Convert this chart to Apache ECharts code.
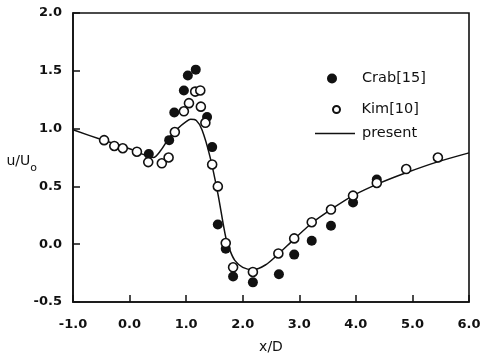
<!DOCTYPE html>
<html>
<head>
<meta charset="utf-8">
<script src="https://cdn.jsdelivr.net/npm/echarts@6/dist/echarts.min.js"></script>
<style>
  html, body { margin: 0; padding: 0; background: #fff; }
  #chart { width: 481px; height: 356px; }
</style>
</head>
<body>
<div id="chart"></div>
<script>
// Measured velocity ratio u/Uo along x/D
const crabPoints = [
  [0.34, 0.78], [0.70, 0.90], [0.79, 1.14], [0.96, 1.33], [1.03, 1.46],
  [1.17, 1.51], [1.37, 1.10], [1.46, 0.84], [1.56, 0.17], [1.70, -0.04],
  [1.83, -0.28], [2.18, -0.33], [2.64, -0.26], [2.91, -0.09], [3.22, 0.03],
  [3.56, 0.16], [3.95, 0.36], [4.37, 0.56]
];
const kimPoints = [
  [-0.45, 0.90], [-0.27, 0.85], [-0.12, 0.83], [0.13, 0.80], [0.33, 0.71],
  [0.57, 0.70], [0.69, 0.75], [0.80, 0.97], [0.96, 1.15], [1.05, 1.22],
  [1.16, 1.32], [1.25, 1.33], [1.26, 1.19], [1.34, 1.05], [1.46, 0.69],
  [1.56, 0.50], [1.70, 0.01], [1.83, -0.20], [2.18, -0.24], [2.63, -0.08],
  [2.91, 0.05], [3.22, 0.19], [3.56, 0.30], [3.95, 0.42], [4.37, 0.53],
  [4.89, 0.65], [5.45, 0.75]
];
// Computed profile
const presentCurve = [
  [-1.0, 0.99], [-0.5, 0.905], [0.0, 0.825], [0.3, 0.765], [0.42, 0.75],
  [0.55, 0.81], [0.7, 0.92], [0.85, 1.00], [1.0, 1.06], [1.08, 1.08],
  [1.18, 1.07], [1.28, 0.99], [1.42, 0.76], [1.56, 0.44], [1.70, 0.06],
  [1.78, -0.06], [1.86, -0.14], [2.0, -0.20], [2.18, -0.22], [2.4, -0.18],
  [2.64, -0.08], [2.9, 0.04], [3.24, 0.19], [3.56, 0.30], [3.95, 0.42],
  [4.43, 0.53], [4.9, 0.62], [5.43, 0.71], [6.0, 0.79]
];
const seriesNames = ['Crab[15]', 'Kim[10]', 'present'];
const xRange = [-1, 6, 1];
const yRange = [-0.5, 2, 0.5];

const ink = '#111';
const tickFont = { fontFamily: 'DejaVu Sans', fontWeight: 'bold', fontSize: 13, color: ink };
const legendText = (pad) => ({
  fontFamily: 'DejaVu Sans', fontSize: 14.5, color: ink, padding: [0, 0, 0, pad]
});

const chart = echarts.init(document.getElementById('chart'), null, { renderer: 'canvas' });
chart.setOption({
  animation: false,
  backgroundColor: '#fff',
  grid: {
    left: 73, right: 12, top: 13, bottom: 54,
    containLabel: false, outerBoundsMode: 'none',
    show: true, borderColor: ink, borderWidth: 1.6, backgroundColor: 'transparent'
  },
  legend: [
    {
      data: [{ name: seriesNames[0], icon: 'circle' }],
      left: 322, top: 66, itemWidth: 20, itemHeight: 10,
      selectedMode: false, textStyle: legendText(15)
    },
    {
      data: [{ name: seriesNames[1], icon: 'circle' }],
      left: 327, top: 97, itemWidth: 20, itemHeight: 7,
      selectedMode: false, textStyle: legendText(10)
    },
    {
      data: [{ name: seriesNames[2], icon: 'rect', itemStyle: { color: ink, borderWidth: 0 } }],
      left: 310, top: 121, itemWidth: 40, itemHeight: 1.5,
      selectedMode: false, textStyle: legendText(2)
    }
  ],
  xAxis: {
    type: 'value', min: xRange[0], max: xRange[1], interval: xRange[2],
    name: 'x/D', nameLocation: 'middle', nameGap: 38, nameMoveOverlap: false,
    nameTextStyle: { fontFamily: 'DejaVu Sans', fontSize: 14, color: ink },
    axisLine: { show: true, onZero: false, lineStyle: { color: ink, width: 1.6 } },
    axisTick: { show: true, inside: true, length: 7, lineStyle: { color: ink, width: 1.5 } },
    axisLabel: Object.assign({ margin: 16, formatter: v => v.toFixed(1) }, tickFont),
    splitLine: { show: false }
  },
  yAxis: {
    type: 'value', min: yRange[0], max: yRange[1], interval: yRange[2],
    name: 'u/U{o|o}', nameLocation: 'middle', nameRotate: 0, nameGap: 36, nameMoveOverlap: false,
    nameTextStyle: {
      fontFamily: 'DejaVu Sans', fontSize: 14, color: ink, padding: [8, 0, 0, 0],
      rich: { o: { fontFamily: 'DejaVu Sans', fontSize: 11, color: ink, padding: [14, 0, 0, 0] } }
    },
    axisLine: { show: true, onZero: false, lineStyle: { color: ink, width: 1.6 } },
    axisTick: { show: true, inside: true, length: 7, lineStyle: { color: ink, width: 1.5 } },
    axisLabel: Object.assign({ margin: 11, formatter: v => v.toFixed(1) }, tickFont),
    splitLine: { show: false }
  },
  series: [
    {
      name: seriesNames[0], type: 'scatter', data: crabPoints, z: 3,
      symbol: 'circle', symbolSize: 10,
      itemStyle: { color: ink, borderColor: ink, borderWidth: 0, opacity: 1 }
    },
    {
      name: seriesNames[1], type: 'scatter', data: kimPoints, z: 4,
      symbol: 'circle', symbolSize: 9,
      itemStyle: { color: '#fff', borderColor: ink, borderWidth: 1.6, opacity: 1 }
    },
    {
      name: seriesNames[2], type: 'line', data: presentCurve, z: 2,
      symbol: 'none', smooth: 0.3,
      itemStyle: { color: ink },
      lineStyle: { color: ink, width: 1.5 }
    }
  ]
});
</script>
</body>
</html>
